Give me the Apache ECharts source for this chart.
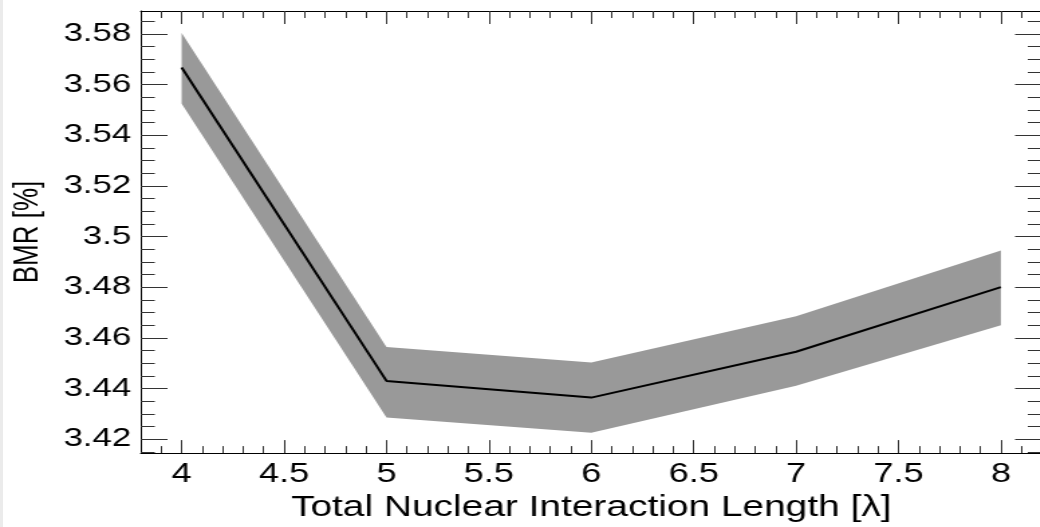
<!DOCTYPE html>
<html>
<head>
<meta charset="utf-8">
<script src="https://cdn.jsdelivr.net/npm/echarts@6/dist/echarts.min.js"></script>
<style>
  html, body { margin: 0; padding: 0; width: 1040px; height: 527px; overflow: hidden; background: #fff; }
  #strip { position: absolute; left: 0; top: 0; width: 3px; height: 527px; background: #ebebeb; }
  #chart { position: absolute; left: 0; top: 0; width: 800px; height: 527px; transform: scaleX(1.34); transform-origin: 0 0; }
</style>
</head>
<body>
<div id="strip"></div>
<div id="chart"></div>
<script>
// ---- data ----
const lambdaValues = [4, 5, 6, 7, 8];
const bmrCentral   = [3.5667, 3.4430, 3.4364, 3.4545, 3.4800];
const bmrUpper     = [3.5803, 3.4564, 3.4503, 3.4685, 3.4945];
const bmrLower     = [3.5524, 3.4286, 3.4225, 3.4411, 3.4650];

const xTickLabels = [4, 4.5, 5, 5.5, 6, 6.5, 7, 7.5, 8];
const yTickLabels = [3.42, 3.44, 3.46, 3.48, 3.50, 3.52, 3.54, 3.56, 3.58];

const xMin = 3.8, xMax = 8.2;
const yMin = 3.4145, yMax = 3.589;

// minor tick positions (axis decoration only)
const xMinor = [];
for (let i = 0; i <= 44; i++) {
  const v = +(3.8 + i * 0.1).toFixed(4);
  if (v > xMin + 1e-6 && v < xMax - 1e-6 && !xTickLabels.some(m => Math.abs(m - v) < 1e-6)) xMinor.push(v);
}
const yMinor = [];
for (let i = 0; i <= 40; i++) {
  const v = +(3.41 + i * 0.005).toFixed(4);
  if (v > yMin && v < yMax && !yTickLabels.some(m => Math.abs(m - v) < 1e-6)) yMinor.push(v);
}

const FONT = "'Liberation Sans', Arial, sans-serif";
const tickColor = '#333';
const fmt = v => String(parseFloat((+v).toFixed(4)));

function xAx(pos, major, showLine, showLabel) {
  return {
    type: 'value', min: xMin, max: xMax, position: pos, offset: 0,
    splitLine: { show: false },
    axisLine: { show: showLine, onZero: false, lineStyle: { color: '#000', width: 1 } },
    axisTick: { show: true, inside: true, length: major ? 13 : 7,
      customValues: major ? xTickLabels : xMinor, lineStyle: { color: tickColor, width: 1 } },
    axisLabel: { show: showLabel, customValues: xTickLabels, formatter: fmt,
      fontFamily: FONT, fontSize: 27, color: '#000', margin: 8 },
    name: showLabel ? 'Total Nuclear Interaction Length [λ]' : '',
    nameLocation: 'middle', nameGap: 32,
    nameTextStyle: { fontFamily: FONT, fontSize: 29, color: '#000' }
  };
}
function yAx(pos, major, showLine, showLabel) {
  return {
    type: 'value', min: yMin, max: yMax, position: pos, offset: 0,
    splitLine: { show: false },
    axisLine: { show: showLine, onZero: false, lineStyle: { color: '#000', width: 1 } },
    axisTick: { show: true, inside: true, length: major ? 20 : 10.5,
      customValues: major ? yTickLabels : yMinor, lineStyle: { color: tickColor, width: 1 } },
    axisLabel: { show: showLabel, customValues: yTickLabels, formatter: fmt,
      fontFamily: FONT, fontSize: 26, color: '#000', margin: 7 },
    name: showLabel ? 'BMR [%]' : '',
    nameLocation: 'middle', nameRotate: 90, nameGap: 71,
    nameTextStyle: { fontFamily: FONT, fontSize: 26, color: '#000' }
  };
}

const chart = echarts.init(document.getElementById('chart'), null, { renderer: 'canvas' });
chart.setOption({
  animation: false,
  backgroundColor: 'transparent',
  grid: { left: 102.9, top: 11, width: 674.6, height: 455, containLabel: false },
  xAxis: [
    xAx('bottom', true, true, true),
    xAx('bottom', false, false, false),
    xAx('top', true, true, false),
    xAx('top', false, false, false)
  ],
  yAxis: [
    yAx('left', true, true, true),
    yAx('left', false, false, false),
    yAx('right', true, true, false),
    yAx('right', false, false, false)
  ],
  series: [
    {
      type: 'custom', xAxisIndex: 0, yAxisIndex: 0, z: 1,
      data: [[lambdaValues[0], bmrUpper[0]]],
      renderItem: function (params, api) {
        const pts = [];
        for (let i = 0; i < lambdaValues.length; i++) pts.push(api.coord([lambdaValues[i], bmrUpper[i]]));
        for (let i = lambdaValues.length - 1; i >= 0; i--) pts.push(api.coord([lambdaValues[i], bmrLower[i]]));
        return { type: 'polygon', shape: { points: pts }, style: { fill: '#999999' } };
      }
    },
    {
      type: 'line', xAxisIndex: 0, yAxisIndex: 0, z: 3,
      data: lambdaValues.map((x, i) => [x, bmrCentral[i]]),
      symbol: 'none', lineStyle: { color: '#000', width: 2 }
    }
  ]
});
</script>
</body>
</html>
